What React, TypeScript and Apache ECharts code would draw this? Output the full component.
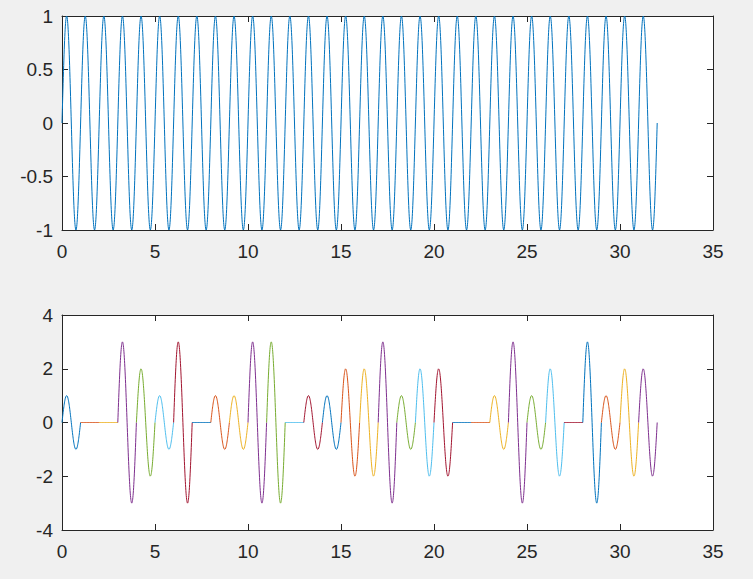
import React, { useEffect, useRef } from "react";
import * as echarts from "echarts";

// Top panel: carrier frequency (Hz) and duration (s)
const carrierFreq = 1;
const duration = 32;
const samplesPerSecond = 100;

// Bottom panel: amplitude of each 1-second segment
const segmentAmplitudes = [
  1, 0, 0, 3, 2, 1, 3, 0,
  1, 1, 3, 3, 0, 1, 1, 2,
  2, 3, 1, 2, 2, 0, 0, 1,
  3, 1, 2, 0, 3, 1, 2, 2,
];

// MATLAB default colour order, cycled per segment
const colorOrder = ["#0072BD", "#D95319", "#EDB120", "#7E2F8E", "#77AC30", "#4DBEEE", "#A2142F"];

// Axis ticks
const xTicks = { min: 0, max: 35, interval: 5 };
const yTicksTop = { min: -1, max: 1, interval: 0.5 };
const yTicksBottom = { min: -4, max: 4, interval: 2 };

const AXIS_COLOR = "#262626";
const FONT = 'Arial, "Liberation Sans", Helvetica, sans-serif';

function carrierPoints(t0: number, t1: number, amp: number): [number, number][] {
  const n = Math.round((t1 - t0) * samplesPerSecond);
  const pts: [number, number][] = [];
  for (let i = 0; i <= n; i++) {
    const t = t0 + (i * (t1 - t0)) / n;
    pts.push([t, amp * Math.sin(2 * Math.PI * carrierFreq * t)]);
  }
  return pts;
}

export default function App() {
  const ref = useRef<HTMLDivElement>(null);
  useEffect(() => {
    if (!ref.current) return;
    const chart = echarts.init(ref.current, undefined, { renderer: "svg" });

    const label = { show: true, color: AXIS_COLOR, fontSize: 19, fontFamily: FONT };
    const line = { show: true, lineStyle: { color: AXIS_COLOR, width: 1 } };
    const tick = { show: true, inside: true, length: 6, lineStyle: { color: AXIS_COLOR, width: 1 } };

    const mkX = (gridIndex: number, position: string, showLabel: boolean) => ({
      type: "value",
      gridIndex,
      position,
      min: xTicks.min,
      max: xTicks.max,
      interval: xTicks.interval,
      axisLine: { ...line, onZero: false },
      axisTick: tick,
      axisLabel: showLabel ? { ...label, margin: 12 } : { show: false },
      splitLine: { show: false },
    });
    const mkY = (gridIndex: number, position: string, showLabel: boolean, r: any) => ({
      type: "value",
      gridIndex,
      position,
      min: r.min,
      max: r.max,
      interval: r.interval,
      axisLine: { ...line, onZero: false },
      axisTick: tick,
      axisLabel: showLabel ? { ...label, margin: 9 } : { show: false },
      splitLine: { show: false },
    });

    const series: any[] = [
      {
        type: "line",
        xAxisIndex: 0,
        yAxisIndex: 0,
        data: carrierPoints(0, duration, 1),
        showSymbol: false,
        lineStyle: { color: colorOrder[0], width: 1 },
        itemStyle: { color: colorOrder[0] },
      },
    ];
    segmentAmplitudes.forEach((a, k) => {
      const c = colorOrder[k % colorOrder.length];
      series.push({
        type: "line",
        xAxisIndex: 2,
        yAxisIndex: 2,
        data: carrierPoints(k, k + 1, a),
        showSymbol: false,
        lineStyle: { color: c, width: 1 },
        itemStyle: { color: c },
      });
    });

    chart.setOption({
      animation: false,
      backgroundColor: "#f0f0f0",
      grid: [
        { left: 62, top: 16, width: 651, height: 214, show: true, backgroundColor: "#ffffff", borderWidth: 0 },
        { left: 62, top: 315, width: 651, height: 215, show: true, backgroundColor: "#ffffff", borderWidth: 0 },
      ],
      xAxis: [mkX(0, "bottom", true), mkX(0, "top", false), mkX(1, "bottom", true), mkX(1, "top", false)],
      yAxis: [
        mkY(0, "left", true, yTicksTop),
        mkY(0, "right", false, yTicksTop),
        mkY(1, "left", true, yTicksBottom),
        mkY(1, "right", false, yTicksBottom),
      ],
      series,
    });
    return () => chart.dispose();
  }, []);
  return (
    <div
      ref={ref}
      style={{ position: "fixed", left: 0, top: 0, width: 753, height: 579, background: "#f0f0f0" }}
    />
  );
}
